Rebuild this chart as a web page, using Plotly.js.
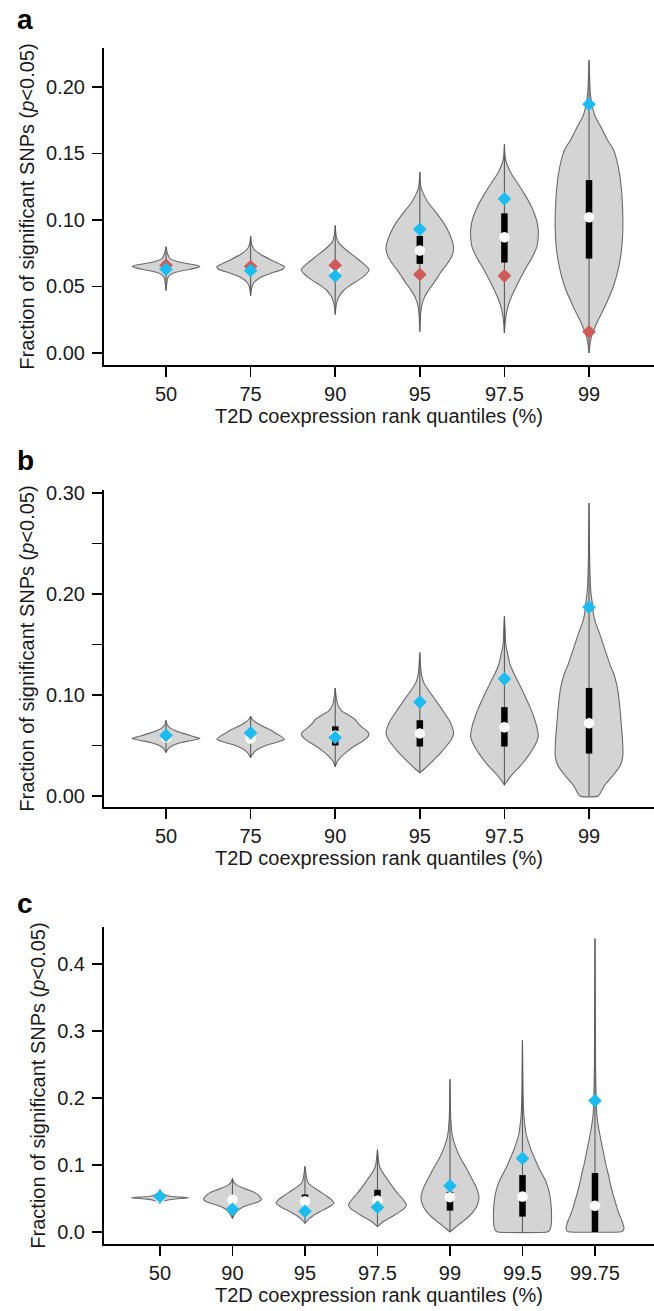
<!DOCTYPE html>
<html><head><meta charset="utf-8">
<script src="https://cdn.plot.ly/plotly-3.0.1.min.js"></script>
<style>html,body{margin:0;padding:0;background:#fff}#chart{width:654px;height:1311px}</style>
</head><body><div id="chart"></div>
<script>
// ---------------- DATA ----------------
const catsA = ['50','75','90','95','97.5','99'];
const catsB = ['50','75','90','95','97.5','99'];
const catsC = ['50','90','95','97.5','99','99.5','99.75'];

// violin density profiles: y levels (top -> bottom) and relative half-widths
const violinY_a = [
  [0.080,0.075,0.071,0.068,0.066,0.065,0.064,0.062,0.060,0.057,0.052,0.047],
  [0.088,0.082,0.078,0.074,0.070,0.067,0.065,0.063,0.060,0.057,0.053,0.049,0.043],
  [0.096,0.088,0.083,0.078,0.073,0.068,0.064,0.062,0.059,0.055,0.051,0.047,0.042,0.036,0.029],
  [0.136,0.125,0.120,0.113,0.105,0.098,0.090,0.083,0.078,0.072,0.066,0.060,0.054,0.048,0.042,0.036,0.028,0.016],
  [0.157,0.148,0.143,0.135,0.128,0.120,0.110,0.100,0.092,0.085,0.080,0.075,0.070,0.065,0.060,0.050,0.043,0.037,0.030,0.022,0.015],
  [0.220,0.205,0.195,0.185,0.178,0.170,0.160,0.153,0.145,0.135,0.125,0.115,0.095,0.080,0.065,0.050,0.035,0.022,0.012,0.005,0.000]
];
const violinW_a = [
  [0,0.04,0.12,0.45,0.9,1.0,0.9,0.5,0.2,0.06,0.02,0],
  [0,0.03,0.1,0.3,0.6,0.85,1.0,0.95,0.6,0.3,0.1,0.03,0],
  [0,0.03,0.1,0.3,0.55,0.8,0.97,1.0,0.9,0.7,0.45,0.25,0.1,0.03,0],
  [0,0.03,0.1,0.25,0.5,0.7,0.87,0.97,1.0,0.93,0.78,0.6,0.45,0.28,0.14,0.06,0.02,0],
  [0,0.02,0.06,0.2,0.38,0.58,0.8,0.95,1.0,0.99,0.96,0.88,0.78,0.66,0.55,0.35,0.22,0.13,0.06,0.02,0],
  [0,0.02,0.04,0.1,0.18,0.35,0.55,0.72,0.82,0.9,0.95,0.98,1.0,0.97,0.88,0.72,0.47,0.22,0.07,0.02,0]
];
const q1_a  = [0.063,0.062,0.058,0.067,0.068,0.071];
const med_a = [0.065,0.064,0.062,0.077,0.087,0.102];
const q3_a  = [0.067,0.067,0.066,0.088,0.105,0.130];
const blue_a = [0.063,0.062,0.058,0.093,0.116,0.187];
const red_a  = [0.066,0.065,0.066,0.059,0.058,0.016];

const violinY_b = [
  [0.075,0.071,0.068,0.065,0.062,0.059,0.057,0.055,0.053,0.050,0.047,0.043],
  [0.079,0.076,0.073,0.070,0.066,0.062,0.059,0.056,0.053,0.050,0.046,0.042,0.038],
  [0.107,0.098,0.090,0.084,0.080,0.076,0.072,0.068,0.064,0.061,0.057,0.053,0.049,0.044,0.039,0.034,0.029],
  [0.142,0.130,0.120,0.112,0.105,0.098,0.090,0.082,0.075,0.068,0.062,0.056,0.050,0.044,0.038,0.032,0.027,0.023],
  [0.178,0.165,0.150,0.140,0.130,0.122,0.112,0.104,0.095,0.087,0.078,0.068,0.059,0.050,0.042,0.035,0.029,0.024,0.019,0.014,0.011],
  [0.290,0.260,0.230,0.210,0.200,0.190,0.180,0.171,0.162,0.154,0.146,0.138,0.130,0.122,0.113,0.105,0.088,0.072,0.055,0.040,0.030,0.020,0.010,0.000]
];
const violinW_b = [
  [0,0.03,0.1,0.25,0.5,0.8,1.0,0.75,0.45,0.2,0.07,0],
  [0,0.05,0.15,0.3,0.55,0.75,0.9,1.0,0.75,0.45,0.2,0.07,0],
  [0,0.03,0.08,0.2,0.4,0.58,0.68,0.8,0.95,1.0,0.92,0.75,0.55,0.35,0.18,0.06,0],
  [0,0.02,0.05,0.12,0.25,0.4,0.57,0.73,0.87,0.96,1.0,0.93,0.8,0.65,0.48,0.3,0.14,0],
  [0,0.02,0.04,0.1,0.17,0.27,0.42,0.54,0.66,0.77,0.87,0.96,1.0,0.9,0.75,0.6,0.45,0.3,0.17,0.06,0],
  [0,0.01,0.02,0.04,0.06,0.1,0.13,0.2,0.3,0.38,0.46,0.54,0.62,0.72,0.8,0.85,0.91,0.95,0.99,1.0,0.92,0.7,0.45,0.27]
];
const q1_b  = [0.057,0.056,0.050,0.049,0.049,0.042];
const med_b = [0.058,0.057,0.060,0.062,0.068,0.072];
const q3_b  = [0.059,0.058,0.069,0.075,0.088,0.107];
const blue_b = [0.060,0.0625,0.058,0.093,0.116,0.187];

const violinY_c = [
  [0.063,0.058,0.055,0.053,0.051,0.049,0.047,0.045,0.043],
  [0.080,0.074,0.070,0.066,0.062,0.058,0.054,0.049,0.045,0.041,0.037,0.032,0.027,0.020],
  [0.098,0.088,0.080,0.074,0.068,0.063,0.058,0.053,0.048,0.043,0.038,0.034,0.030,0.025,0.020,0.013],
  [0.123,0.110,0.100,0.093,0.086,0.078,0.070,0.063,0.056,0.050,0.044,0.040,0.035,0.030,0.025,0.020,0.015,0.008],
  [0.228,0.200,0.175,0.160,0.150,0.140,0.130,0.120,0.110,0.100,0.090,0.080,0.070,0.060,0.052,0.045,0.038,0.030,0.022,0.015,0.008,0.003,0.000],
  [0.286,0.250,0.210,0.185,0.172,0.160,0.147,0.135,0.122,0.110,0.097,0.087,0.078,0.070,0.063,0.053,0.043,0.030,0.018,0.008,0.002,0.000],
  [0.438,0.400,0.350,0.300,0.250,0.220,0.200,0.185,0.172,0.160,0.147,0.132,0.117,0.100,0.088,0.072,0.058,0.045,0.033,0.025,0.018,0.010,0.005,0.001,0.000]
];
const violinW_c = [
  [0,0.05,0.2,0.45,1.0,0.45,0.2,0.05,0],
  [0,0.05,0.15,0.35,0.6,0.8,0.92,1.0,0.9,0.6,0.35,0.18,0.08,0],
  [0,0.03,0.06,0.1,0.25,0.42,0.6,0.77,0.92,1.0,0.85,0.68,0.5,0.3,0.15,0],
  [0,0.03,0.06,0.12,0.22,0.35,0.48,0.6,0.73,0.85,0.96,1.0,0.92,0.76,0.58,0.38,0.18,0],
  [0,0.01,0.02,0.04,0.06,0.1,0.17,0.26,0.37,0.5,0.63,0.75,0.87,0.96,1.0,0.98,0.92,0.8,0.62,0.42,0.22,0.08,0],
  [0,0.01,0.02,0.035,0.05,0.08,0.12,0.2,0.3,0.42,0.55,0.67,0.78,0.85,0.9,0.95,0.98,1.0,1.0,0.98,0.93,0.85],
  [0,0.005,0.01,0.015,0.02,0.03,0.04,0.05,0.07,0.11,0.16,0.23,0.3,0.38,0.45,0.53,0.61,0.7,0.78,0.85,0.92,0.98,1.0,0.95,0.85]
];
const q1_c  = [0.050,0.044,0.040,0.040,0.032,0.023,0.000];
const med_c = [0.051,0.048,0.046,0.047,0.052,0.053,0.039];
const q3_c  = [0.052,0.053,0.056,0.063,0.060,0.085,0.088];
const blue_c = [0.053,0.034,0.031,0.037,0.069,0.110,0.196];

const xTitle = 'T2D coexpression rank quantiles (%)';
const yTitle = 'Fraction of significant SNPs (<i>p</i>&lt;0.05)';

// ---------------- STYLE ----------------
const FONT = 'Liberation Sans, Arial, Helvetica, sans-serif';
const HW = 0.4;
const FILL = '#d4d4d4', OUTLINE = '#6a6a6a', BLUE = '#1cbcf0', RED = '#cf5a5a';

const traces = [];
function panel(cats, vy, vw, q1, med, q3, blue, red, xa, ya) {
  const n = cats.length;
  for (let i = 0; i < n; i++) {
    const xc = i + 1, ys = vy[i], ws = vw[i];
    const px = ws.map(w => xc + HW * w).concat(ws.slice().reverse().map(w => xc - HW * w));
    const py = ys.concat(ys.slice().reverse());
    px.push(px[0]); py.push(py[0]);
    traces.push({type:'scatter', mode:'lines', x:px, y:py, xaxis:xa, yaxis:ya,
      fill:'toself', fillcolor:FILL, line:{color:OUTLINE, width:1.1, shape:'spline', smoothing:0.5},
      hoverinfo:'skip', showlegend:false});
  }
  const wx = [], wy = [], bx = [], by = [];
  for (let i = 0; i < n; i++) {
    const xc = i + 1;
    wx.push(xc, xc, null); wy.push(vy[i][0], vy[i][vy[i].length - 1], null);
    bx.push(xc, xc, null); by.push(q1[i], q3[i], null);
  }
  traces.push({type:'scatter', mode:'lines', x:wx, y:wy, xaxis:xa, yaxis:ya,
    line:{color:'#5a5a5a', width:1.1}, hoverinfo:'skip', showlegend:false});
  traces.push({type:'scatter', mode:'lines', x:bx, y:by, xaxis:xa, yaxis:ya,
    line:{color:'#000', width:6.5}, hoverinfo:'skip', showlegend:false});
  const xs = cats.map((c, i) => i + 1);
  traces.push({type:'scatter', mode:'markers', x:xs, y:med, xaxis:xa, yaxis:ya,
    marker:{symbol:'circle', size:10.5, color:'#fff', line:{width:0}}, showlegend:false});
  if (red) traces.push({type:'scatter', mode:'markers', x:xs, y:red, xaxis:xa, yaxis:ya,
    marker:{symbol:'diamond', size:10.5, color:RED, line:{width:0}}, showlegend:false});
  traces.push({type:'scatter', mode:'markers', x:xs, y:blue, xaxis:xa, yaxis:ya,
    marker:{symbol:'diamond', size:10.5, color:BLUE, line:{width:0}}, showlegend:false});
}
panel(catsA, violinY_a, violinW_a, q1_a, med_a, q3_a, blue_a, red_a, 'x', 'y');
panel(catsB, violinY_b, violinW_b, q1_b, med_b, q3_b, blue_b, null, 'x2', 'y2');
panel(catsC, violinY_c, violinW_c, q1_c, med_c, q3_c, blue_c, null, 'x3', 'y3');

const W = 654, H = 1311;
const xl = 104 / W;
function xax(cats, range, anchor) {
  return {domain:[xl, 1], range:range, anchor:anchor,
    tickmode:'array', tickvals:cats.map((c, i) => i + 1), ticktext:cats,
    showline:true, linecolor:'#000', linewidth:2, ticks:'outside', ticklen:10, tickwidth:1.5, tickcolor:'#000',
    showgrid:false, zeroline:false, tickfont:{family:FONT, size:20, color:'#1a1a1a'},
    title:{text:xTitle, font:{family:FONT, size:20, color:'#1a1a1a'}, standoff:4}, automargin:false};
}
function yax(dom, range, tv, tt, anchor) {
  return {domain:dom, range:range, anchor:anchor,
    tickmode:'array', tickvals:tv, ticktext:tt,
    showline:true, linecolor:'#000', linewidth:2, ticks:'outside', ticklen:10, tickwidth:1.5, tickcolor:'#000',
    showgrid:false, zeroline:false, tickfont:{family:FONT, size:20, color:'#1a1a1a'}, ticklabelstandoff:3,
    title:{text:yTitle, font:{family:FONT, size:20, color:'#1a1a1a'}, standoff:6}, automargin:false};
}
function dom(top, bottom) { return [1 - bottom / H, 1 - top / H]; }

const layout = {
  width:W, height:H, margin:{l:0, r:0, t:0, b:0},
  paper_bgcolor:'#fff', plot_bgcolor:'#fff', showlegend:false,
  font:{family:FONT, color:'#1a1a1a'},
  xaxis: xax(catsA, [0.267, 6.768], 'y'),
  xaxis2: xax(catsB, [0.267, 6.768], 'y2'),
  xaxis3: xax(catsC, [0.228, 7.814], 'y3'),
  yaxis: yax(dom(48, 365), [-0.00902, 0.2293], [0,0.05,0.10,0.15,0.20], ['0.00','0.05','0.10','0.15','0.20'], 'x'),
  yaxis2: yax(dom(490, 807), [-0.0109, 0.303], [0,0.05,0.10,0.15,0.20,0.25,0.30], ['0.00','','0.10','','0.20','','0.30'], 'x2'),
  yaxis3: yax(dom(927, 1244), [-0.0179, 0.4552], [0,0.1,0.2,0.3,0.4], ['0.0','0.1','0.2','0.3','0.4'], 'x3'),
  annotations: [
    {text:'<b>a</b>', x:25 / W, y:1 - 20 / H},
    {text:'<b>b</b>', x:25 / W, y:1 - 460 / H},
    {text:'<b>c</b>', x:25 / W, y:1 - 903 / H}
  ].map(a => Object.assign(a, {xref:'paper', yref:'paper', xanchor:'center', yanchor:'middle',
    showarrow:false, font:{family:FONT, size:28, color:'#000'}}))
};

Plotly.newPlot('chart', traces, layout, {staticPlot:true, displayModeBar:false});
</script></body></html>
